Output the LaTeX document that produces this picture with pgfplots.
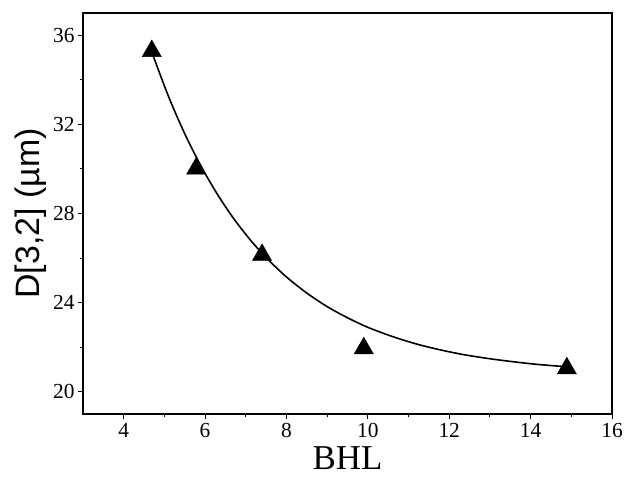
\documentclass[border=0pt]{standalone}
\usepackage{pgfplots}
\pgfplotsset{compat=1.18}
\usepackage{fontspec}
\setmainfont{Liberation Serif}
\newfontfamily\labelsans{Liberation Sans}
\begin{document}
\begin{tikzpicture}
\begin{axis}[
  scale only axis,
  width=529bp, height=401bp,
  xmin=3, xmax=16, ymin=19, ymax=37,
  xtick={4,6,...,16}, ytick={20,24,...,36},
  minor x tick num=1, minor y tick num=1,
  tick align=outside, tick pos=left,
  major tick length=5bp, minor tick length=3bp,
  axis line style={line width=1.3bp},
  every tick/.style={black, line width=1bp},
  tick label style={font=\fontsize{21.5}{24}\selectfont},
  xticklabel style={yshift=-1bp},
  /pgf/number format/assume math mode=true,
  xlabel={BHL},
  xlabel style={font=\fontsize{35}{40}\selectfont, yshift=-2bp},
  ylabel={\labelsans D[3,2] (µm)},
  ylabel style={font=\fontsize{34}{38}\selectfont, yshift=0bp},
]
\addplot[black, line width=1.6bp, smooth, no markers] coordinates {
 (4.7,35.20) (5.1,33.26) (5.5,31.58) (5.9,30.13) (6.3,28.87) (6.7,27.78)
 (7.1,26.84) (7.5,26.02) (8.0,25.15) (8.5,24.43) (9.0,23.82) (9.5,23.32)
 (10.0,22.89) (10.6,22.48) (11.2,22.14) (11.8,21.87) (12.4,21.65)
 (13.0,21.48) (13.6,21.34) (14.2,21.22) (14.9,21.12)
};
\addplot[only marks, mark=triangle*, mark size=11bp, mark options={fill=black, draw=black, line width=0.5bp}] coordinates {
 (4.69,35.29) (5.78,30.01) (7.40,26.14) (9.90,21.95) (14.89,21.05)
};
\end{axis}
\pgfresetboundingbox
\path[use as bounding box] ([shift={(-83bp,-65bp)}]current axis.south west) rectangle ([shift={(15bp,13bp)}]current axis.north east);
\end{tikzpicture}
\end{document}
